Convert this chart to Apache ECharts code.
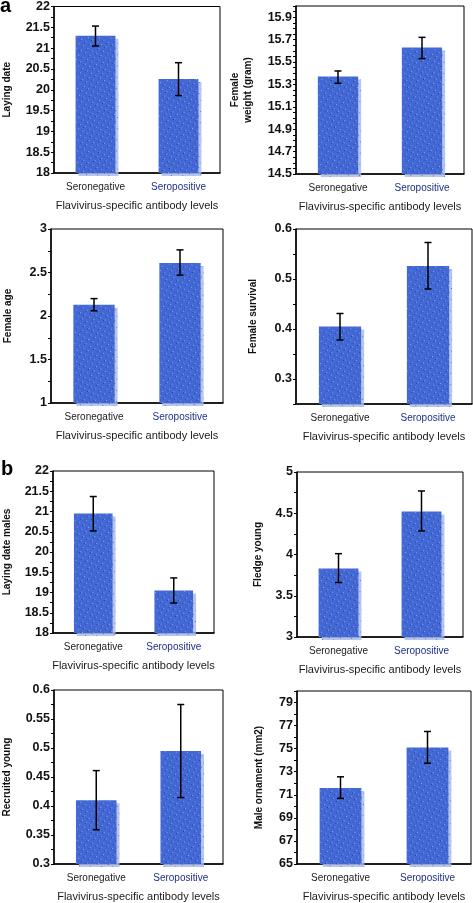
<!DOCTYPE html>
<html>
<head>
<meta charset="utf-8">
<script src="https://cdn.jsdelivr.net/npm/echarts@6/dist/echarts.min.js"></script>
<style>
html,body{margin:0;padding:0;background:#fff;}
#chart{width:473px;height:903px;}
</style>
</head>
<body>
<div id="chart"></div>
<script>
// ---------- data ----------
const categories = ['Seronegative', 'Seropositive'];
const xTitle = 'Flavivirus-specific antibody levels';

const layingDate = [21.3, 20.26];
const layingDateErr = [[21.05, 21.53], [19.86, 20.65]];
const femaleWeight = [15.37, 15.63];
const femaleWeightErr = [[15.31, 15.42], [15.53, 15.72]];
const femaleAge = [2.13, 2.61];
const femaleAgeErr = [[2.06, 2.20], [2.47, 2.76]];
const femaleSurvival = [0.405, 0.526];
const femaleSurvivalErr = [[0.378, 0.431], [0.480, 0.573]];
const layingDateMales = [20.95, 19.05];
const layingDateMalesErr = [[20.52, 21.37], [18.74, 19.36]];
const fledgeYoung = [3.83, 4.52];
const fledgeYoungErr = [[3.66, 4.01], [4.285, 4.77]];
const recruitedYoung = [0.41, 0.495];
const recruitedYoungErr = [[0.359, 0.461], [0.4145, 0.575]];
const maleOrnament = [71.6, 75.1];
const maleOrnamentErr = [[70.69, 72.56], [73.74, 76.49]];

const ticksLayingDate = ['18', '18.5', '19', '19.5', '20', '20.5', '21', '21.5', '22'];
const ticksFemaleWeight = ['14.5', '14.7', '14.9', '15.1', '15.3', '15.5', '15.7', '15.9'];
const ticksFemaleAge = ['1', '1.5', '2', '2.5', '3'];
const ticksFemaleSurvival = ['0.3', '0.4', '0.5', '0.6'];
const ticksLayingDateMales = ['18', '18.5', '19', '19.5', '20', '20.5', '21', '21.5', '22'];
const ticksFledgeYoung = ['3', '3.5', '4', '4.5', '5'];
const ticksRecruitedYoung = ['0.3', '0.35', '0.4', '0.45', '0.5', '0.55', '0.6'];
const ticksMaleOrnament = ['65', '67', '69', '71', '73', '75', '77', '79'];

// ---------- layout / styles ----------
const panels = [
  {name: 'Laying date', vals: layingDate, err: layingDateErr, ticks: ticksLayingDate,
   min: 18, max: 22, step: 0.25, grid: {left: 50, top: 4, width: 170, height: 169}, gap: 40},
  {name: 'Female\nweight (gram)', vals: femaleWeight, err: femaleWeightErr, ticks: ticksFemaleWeight,
   min: 14.5, max: 16.0, step: 0.05, grid: {left: 296, top: 6, width: 168, height: 168}, gap: 41},
  {name: 'Female age', vals: femaleAge, err: femaleAgeErr, ticks: ticksFemaleAge,
   min: 1, max: 3, step: 0.25, grid: {left: 51, top: 229, width: 172, height: 174}, gap: 36},
  {name: 'Female survival', vals: femaleSurvival, err: femaleSurvivalErr, ticks: ticksFemaleSurvival,
   min: 0.25, max: 0.6, step: 0.05, grid: {left: 296, top: 229, width: 176, height: 175}, gap: 36},
  {name: 'Laying date males', vals: layingDateMales, err: layingDateMalesErr, ticks: ticksLayingDateMales,
   min: 18, max: 22, step: 0.25, grid: {left: 51, top: 471, width: 163, height: 162}, gap: 39},
  {name: 'Fledge young', vals: fledgeYoung, err: fledgeYoungErr, ticks: ticksFledgeYoung,
   min: 3, max: 5, step: 0.25, grid: {left: 297, top: 472, width: 166, height: 165}, gap: 32},
  {name: 'Recruited young', vals: recruitedYoung, err: recruitedYoungErr, ticks: ticksRecruitedYoung,
   min: 0.3, max: 0.6, step: 0.025, grid: {left: 51, top: 690, width: 172, height: 175}, gap: 40},
  {name: 'Male ornament (mm2)', vals: maleOrnament, err: maleOrnamentErr, ticks: ticksMaleOrnament,
   min: 65, max: 80, step: 1, grid: {left: 297, top: 691, width: 174, height: 174}, gap: 31}
];

const BAR = '#4268d6';
const tickFont = 'Liberation Sans, Arial, sans-serif';

const grids = [], xAxes = [], yAxes = [], series = [];
panels.forEach((p, i) => {
  grids.push(Object.assign({show: true, borderColor: '#000', borderWidth: 1, backgroundColor: 'transparent', containLabel: false}, p.grid));
  xAxes.push({
    type: 'category', gridIndex: i, data: categories,
    axisLine: {lineStyle: {color: '#000', width: 1.5}},
    axisTick: {show: false},
    axisLabel: {
      interval: 0, hideOverlap: false,
      margin: 9, fontSize: 10, fontFamily: tickFont,
      formatter: v => v === 'Seropositive' ? '{p|' + v + '}' : '{n|' + v + '}',
      rich: {n: {color: '#1a1a1a', fontSize: 10, fontFamily: tickFont}, p: {color: '#1f2f86', fontSize: 10, fontFamily: tickFont}}
    },
    name: xTitle, nameLocation: 'middle', nameGap: 27,
    nameTextStyle: {fontSize: 11, color: '#1a1a1a', fontFamily: tickFont}
  });
  yAxes.push({
    type: 'value', gridIndex: i, min: p.min, max: p.max, interval: p.step,
    axisLine: {show: true, lineStyle: {color: '#000', width: 1.5}},
    axisTick: {show: true, length: 3, lineStyle: {color: '#000'}},
    splitLine: {show: false},
    axisLabel: {
      margin: 4, fontSize: 12.5, fontWeight: 'bold', color: '#111', fontFamily: tickFont,
      showMinLabel: true, showMaxLabel: true,
      formatter: v => {
        const t = p.ticks.find(s => Math.abs(parseFloat(s) - v) < 1e-6);
        return t === undefined ? '' : t;
      }
    },
    name: p.name, nameLocation: 'middle', nameGap: p.gap,
    nameTextStyle: {fontSize: 10, fontWeight: 'bold', color: '#111', fontFamily: tickFont, lineHeight: 13, align: 'center'}
  });
  series.push({
    type: 'bar', xAxisIndex: i, yAxisIndex: i, data: p.vals, barWidth: '48%',
    itemStyle: {
      color: BAR,
      shadowColor: 'rgba(170,188,238,0.85)', shadowOffsetX: 3, shadowOffsetY: 3, shadowBlur: 0,
      decal: {symbol: 'rect', symbolSize: 1, color: 'rgba(255,255,255,0.4)', dashArrayX: [1, 4], dashArrayY: [1, 4], rotation: 0.5}
    },
    silent: true, animation: false
  });
  series.push({
    type: 'custom', xAxisIndex: i, yAxisIndex: i, z: 5, animation: false,
    data: p.err.map((e, k) => [k, e[0], e[1]]),
    encode: {x: 0, y: [1, 2]},
    renderItem: (params, api) => {
      const lo = api.coord([api.value(0), api.value(1)]);
      const hi = api.coord([api.value(0), api.value(2)]);
      const cap = 3.5;
      const st = {stroke: '#000', lineWidth: 1.5};
      return {type: 'group', children: [
        {type: 'line', shape: {x1: lo[0], y1: lo[1], x2: hi[0], y2: hi[1]}, style: st},
        {type: 'line', shape: {x1: lo[0] - cap, y1: lo[1], x2: lo[0] + cap, y2: lo[1]}, style: st},
        {type: 'line', shape: {x1: hi[0] - cap, y1: hi[1], x2: hi[0] + cap, y2: hi[1]}, style: st}
      ]};
    }
  });
});

const chart = echarts.init(document.getElementById('chart'), null, {renderer: 'canvas'});
chart.setOption({
  animation: false,
  backgroundColor: '#fff',
  grid: grids, xAxis: xAxes, yAxis: yAxes, series: series,
  graphic: [
    {type: 'text', left: 0, top: -4, style: {text: 'a', fontSize: 20, fontWeight: 'bold', fill: '#000', fontFamily: tickFont}},
    {type: 'text', left: 1, top: 459, style: {text: 'b', fontSize: 20, fontWeight: 'bold', fill: '#000', fontFamily: tickFont}}
  ]
});
</script>
</body>
</html>
